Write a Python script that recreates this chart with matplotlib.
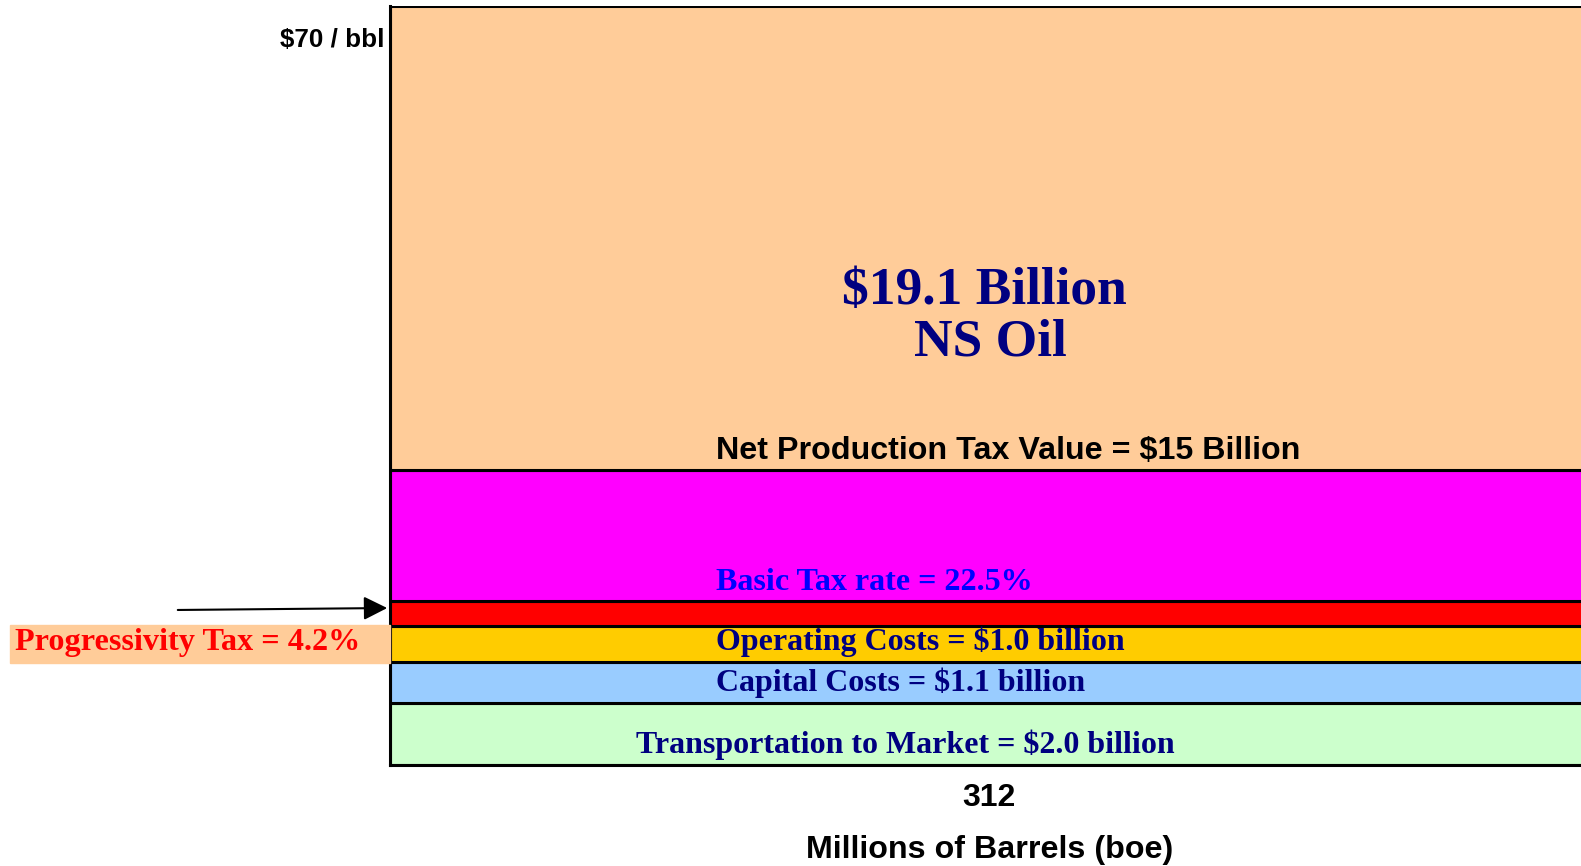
import matplotlib.pyplot as plt
from matplotlib.patches import Rectangle

# $/bbl bands from bottom to top (total = $70/bbl)
bands = ['Transportation', 'Capital', 'Operating', 'Progressivity', 'Basic Tax', 'Net']
band_values = [5.7, 3.8, 3.3, 2.3, 12.1, 42.8]
band_colors = ['#CCFFCC', '#99CCFF', '#FFCC00', '#FF0000', '#FF00FF', '#FFCC99']
barrels = 312
price = 70

W, H = 1581, 866
fig = plt.figure(figsize=(W / 100, H / 100), dpi=100)

def fx(px):
    return px / W

def fy(py):
    return 1 - py / H

# axes runs off the right edge, as in the reference
ax = fig.add_axes([fx(390), fy(765), fx(1620 - 390), (765 - 6) / H])

bottom = 0
for val, col in zip(band_values, band_colors):
    ax.bar(0, val, bottom=bottom, width=barrels, align='edge',
           color=col, edgecolor='black', linewidth=2.2)
    bottom += val

ax.set_xlim(0, barrels)
ax.set_ylim(0, price)
ax.set_xticks([])
ax.set_yticks([])
for s in ['top', 'right']:
    ax.spines[s].set_visible(False)
for s in ['left', 'bottom']:
    ax.spines[s].set_linewidth(2.2)

serif = 'Liberation Serif'
sans = 'Liberation Sans'
navy = '#000080'

fig.text(fx(384), fy(40), f'${price} / bbl', ha='right', va='center',
         fontsize=18.7, fontweight='bold', family=sans)

fig.text(fx(984), fy(291), '$19.1 Billion', ha='center', va='center',
         fontsize=38.5, fontweight='bold', family=serif, color=navy)
fig.text(fx(990), fy(343), 'NS Oil', ha='center', va='center',
         fontsize=38.5, fontweight='bold', family=serif, color=navy)

fig.text(fx(716), fy(459), 'Net Production Tax Value = $15 Billion', ha='left',
         va='baseline', fontsize=23.2, fontweight='bold', family=sans)

fig.text(fx(716), fy(590), 'Basic Tax rate = 22.5%', ha='left', va='baseline',
         fontsize=23.1, fontweight='bold', family=serif, color='#0000FF')
fig.text(fx(716), fy(650), 'Operating Costs = $1.0 billion', ha='left', va='baseline',
         fontsize=23, fontweight='bold', family=serif, color=navy)
fig.text(fx(716), fy(691), 'Capital Costs = $1.1 billion', ha='left', va='baseline',
         fontsize=23, fontweight='bold', family=serif, color=navy)
fig.text(fx(905), fy(753), 'Transportation to Market = $2.0 billion', ha='center',
         va='baseline', fontsize=23, fontweight='bold', family=serif, color=navy)

# progressivity label with peach box and arrow
fig.patches.append(Rectangle((fx(10), fy(663)), fx(380), (663 - 625) / H,
                             transform=fig.transFigure, color='#FFCC99', zorder=0))
fig.text(fx(15), fy(650), 'Progressivity Tax = 4.2%', ha='left', va='baseline',
         fontsize=23.2, fontweight='bold', family=serif, color='#FF0000')
ax.annotate('', xy=(fx(390), fy(608)), xytext=(fx(175), fy(610)),
            xycoords='figure fraction', textcoords='figure fraction',
            arrowprops=dict(arrowstyle='-|>', color='black', lw=1.5, mutation_scale=36))

fig.text(fx(989), fy(798), str(barrels), ha='center', va='center',
         fontsize=23, fontweight='bold', family=sans)
fig.text(fx(990), fy(850), 'Millions of Barrels (boe)', ha='center', va='center',
         fontsize=23.2, fontweight='bold', family=sans)

fig.savefig('out.png', dpi=100)
